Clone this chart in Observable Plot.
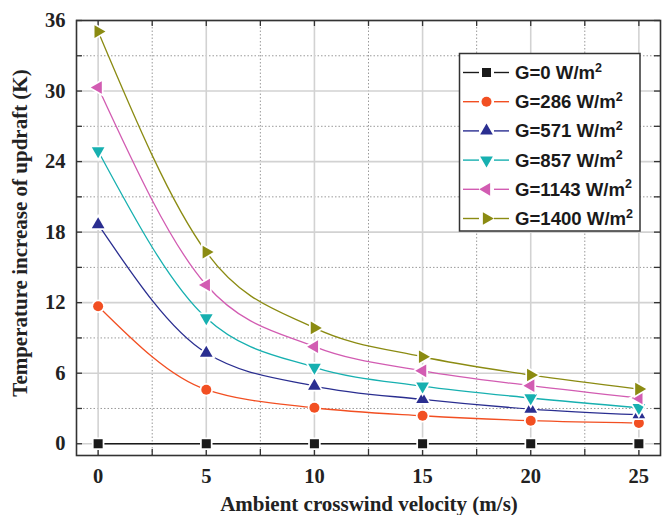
<!DOCTYPE html>
<html><head><meta charset="utf-8">
<script src="https://cdn.jsdelivr.net/npm/d3@7"></script>
<script src="https://cdn.jsdelivr.net/npm/@observablehq/plot@0.6"></script>
<style>
body{margin:0;background:#fff}
#wrap{position:relative;width:662px;height:515px;overflow:hidden}
#wrap svg{position:absolute;left:0;top:0}
.title{position:absolute;font-family:"Liberation Serif",serif;font-weight:bold;font-size:21px;color:#222;white-space:nowrap}
</style>
</head><body><div id="wrap"></div>
<script>
// ---- data ----
const velocity = [0, 5, 10, 15, 20, 25];
const seriesLabels = ["G=0 W/m", "G=286 W/m", "G=571 W/m", "G=857 W/m", "G=1143 W/m", "G=1400 W/m"];
const g0    = [0, 0, 0, 0, 0, 0];
const g286  = [11.7, 4.6, 3.06, 2.38, 1.96, 1.76];
const g571  = [18.65, 7.72, 4.91, 3.77, 2.95, 2.47];
const g857  = [24.9, 10.7, 6.5, 4.9, 3.89, 3.06];
const g1143 = [30.3, 13.5, 8.26, 6.2, 4.94, 3.89];
const g1400 = [35.06, 16.3, 9.85, 7.4, 5.85, 4.65];
const xMajor = [0, 5, 10, 15, 20, 25];
const xMinor = [2.5, 7.5, 12.5, 17.5, 22.5];
const yMajor = [0, 6, 12, 18, 24, 30, 36];
const yMinor = [3, 9, 15, 21, 27, 33];
const xTitle = "Ambient crosswind velocity (m/s)";
const yTitle = "Temperature increase of updraft (K)";

const colors = ["#1a1a1a", "#f24f22", "#2a2e90", "#17b0b0", "#d25cb2", "#8b8b12"];
const allValues = [g0, g286, g571, g857, g1143, g1400];

// custom symbols
const sqSym = {draw(ctx, size){const s = Math.sqrt(size)/2; ctx.rect(-s,-s,2*s,2*s);}};
const circSym = d3.symbolCircle;
function triSym(deg){
  return {draw(ctx, size){
    const side = Math.sqrt(4*size/Math.sqrt(3)); const R = side/Math.sqrt(3);
    const a = deg*Math.PI/180;
    for (let i=0;i<3;i++){const th = a - Math.PI/2 + i*2*Math.PI/3; const x=R*Math.cos(th), y=R*Math.sin(th); if(i) ctx.lineTo(x,y); else ctx.moveTo(x,y);}
    ctx.closePath();
  }};
}
const symbols = [sqSym, circSym, triSym(0), triSym(180), triSym(-90), triSym(90)];
const radii = [5.1, 5.0, 4.7, 4.7, 4.7, 4.7];

const W = 662, H = 515, mL = 76, mR = 2, mT = 20, mB = 60;
const frameH = H - mT - mB, frameW = W - mL - mR, tk = 6;

const marks = [
  Plot.ruleX(xMinor, {x: d => d, stroke: "#9a9a9a", strokeWidth: 1, strokeDasharray: "1.5,2"}),
  Plot.ruleY(yMinor, {y: d => d, stroke: "#9a9a9a", strokeWidth: 1, strokeDasharray: "1.5,2"}),
  Plot.ruleX(xMajor, {x: d => d, stroke: "#d2d2d2", strokeWidth: 1.6}),
  Plot.ruleY(yMajor, {y: d => d, stroke: "#d2d2d2", strokeWidth: 1.6}),
  // inward ticks on all four sides
  Plot.ruleX(xMajor.concat(xMinor), {x: d => d, stroke: "#333", strokeWidth: 1.3, insetTop: frameH - tk}),
  Plot.ruleX(xMajor.concat(xMinor), {x: d => d, stroke: "#333", strokeWidth: 1.3, insetBottom: frameH - tk}),
  Plot.ruleY(yMajor.concat(yMinor), {y: d => d, stroke: "#333", strokeWidth: 1.3, insetRight: frameW - tk}),
  Plot.ruleY(yMajor.concat(yMinor), {y: d => d, stroke: "#333", strokeWidth: 1.3, insetLeft: frameW - tk}),
  Plot.axisX({ticks: xMajor, tickSize: 0, tickPadding: 13, tickFormat: d => String(d), label: null}),
  Plot.axisY({ticks: yMajor, tickSize: 0, tickPadding: 11, tickFormat: d => String(d), label: null}),
];
allValues.forEach((vals, i) => {
  const rows = velocity.map((v, j) => ({v, t: vals[j]}));
  marks.push(Plot.line(rows, {x: "v", y: "t", stroke: colors[i], strokeWidth: i === 0 ? 1.6 : 1.3, curve: "monotone-x"}));
});
allValues.forEach((vals, i) => {
  const rows = velocity.map((v, j) => ({v, t: vals[j]}));
  marks.push(Plot.dot(rows, {x: "v", y: "t", symbol: symbols[i], r: radii[i], fill: colors[i], stroke: "white", strokeWidth: 3.5, paintOrder: "stroke"}));
});
marks.push(Plot.frame({stroke: "#333", strokeWidth: 1.6}));

const chart = Plot.plot({
  width: W, height: H,
  marginLeft: mL, marginRight: mR, marginTop: mT, marginBottom: mB,
  x: {domain: [-1, 26]},
  y: {domain: [-1, 36]},
  style: {fontFamily: "'Liberation Serif', serif", fontSize: "20.5px", fontWeight: "bold", color: "#222", background: "white"},
  marks
});
const wrap = document.getElementById("wrap");
wrap.appendChild(chart);

// axis titles
const xt = document.createElement("div");
xt.className = "title"; xt.textContent = xTitle;
xt.style.left = "369px"; xt.style.top = "492px"; xt.style.transform = "translateX(-50%)";
wrap.appendChild(xt);
const yt = document.createElement("div");
yt.className = "title"; yt.textContent = yTitle;
yt.style.left = "20px"; yt.style.top = "233px"; yt.style.transform = "translate(-50%,-50%) rotate(-90deg)";
wrap.appendChild(yt);

// legend overlay
const leg = d3.select(wrap).append("svg").attr("width", W).attr("height", H).style("pointer-events", "none");
leg.append("rect").attr("x", 459.5).attr("y", 53.5).attr("width", 180.5).attr("height", 177.5)
  .attr("fill", "white").attr("stroke", "#333").attr("stroke-width", 1.5);
seriesLabels.forEach((lab, i) => {
  const cy = 72.5 + i * 29.2;
  const g = leg.append("g");
  g.append("line").attr("x1", 463).attr("x2", 479).attr("y1", cy).attr("y2", cy).attr("stroke", colors[i]).attr("stroke-width", 1.4);
  g.append("line").attr("x1", 494).attr("x2", 509).attr("y1", cy).attr("y2", cy).attr("stroke", colors[i]).attr("stroke-width", 1.4);
  g.append("path").attr("transform", `translate(486.5,${cy})`)
    .attr("d", d3.symbol(symbols[i], radii[i]*radii[i]*Math.PI)())
    .attr("fill", colors[i]);
  const t = g.append("text").attr("x", 515).attr("y", cy + 6.5)
    .attr("font-family", "'Liberation Sans', Arial, sans-serif").attr("font-weight", "bold")
    .attr("font-size", 18.6).attr("fill", "#1a1a1a").text(lab);
  t.append("tspan").attr("dy", -7.5).attr("font-size", 12.5).text("2");
});
</script>
</body></html>
